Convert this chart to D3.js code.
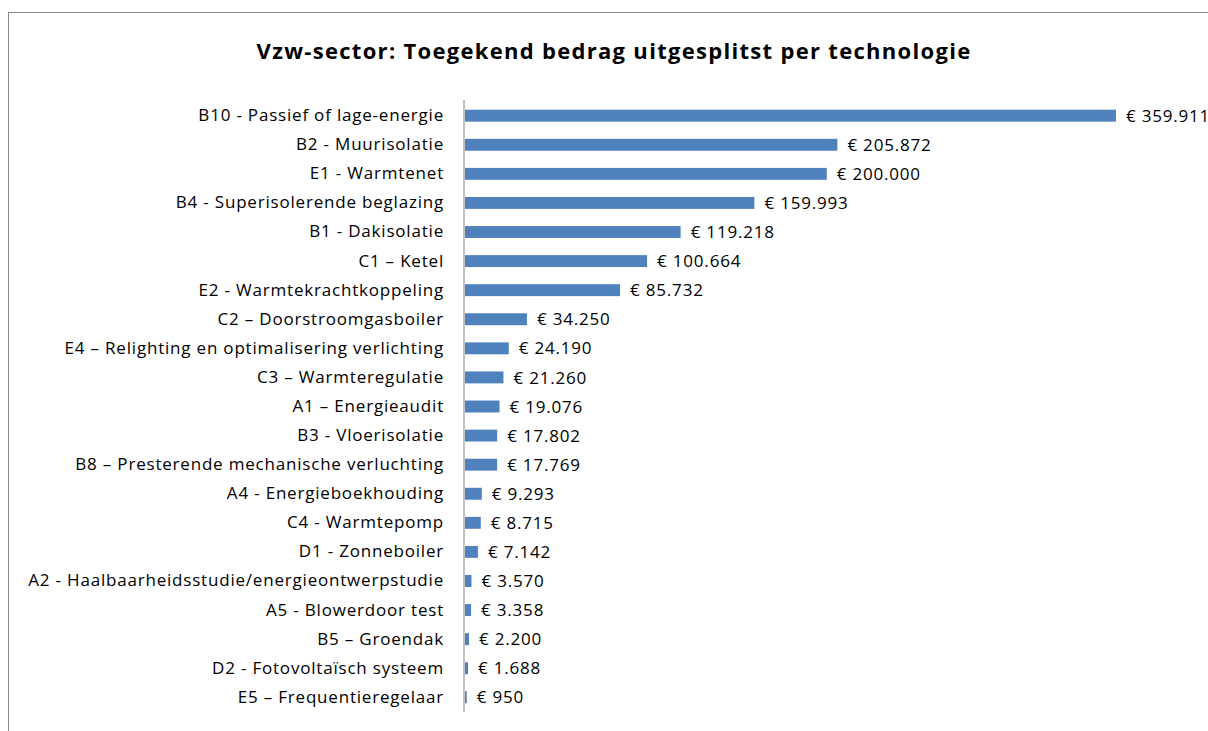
<!DOCTYPE html>
<html>
<head>
  <meta charset="utf-8">
  <title>Vzw-sector</title>
  <script src="https://d3js.org/d3.v7.min.js"></script>
  <style>
    html, body { margin: 0; height: 100%; overflow: hidden; background: #fff; }
    text { font-family: "Open Sans", sans-serif; fill: #000; }
  </style>
</head>
<body>
  <div id="chart"></div>
  <script>
    const categories = [
      "B10 - Passief of lage-energie",
      "B2 - Muurisolatie",
      "E1 - Warmtenet",
      "B4 - Superisolerende beglazing",
      "B1 - Dakisolatie",
      "C1 \u2013 Ketel",
      "E2 - Warmtekrachtkoppeling",
      "C2 \u2013 Doorstroomgasboiler",
      "E4 \u2013 Relighting en optimalisering verlichting",
      "C3 \u2013 Warmteregulatie",
      "A1 \u2013 Energieaudit",
      "B3 - Vloerisolatie",
      "B8 \u2013 Presterende mechanische verluchting",
      "A4 - Energieboekhouding",
      "C4 - Warmtepomp",
      "D1 - Zonneboiler",
      "A2 - Haalbaarheidsstudie/energieontwerpstudie",
      "A5 - Blowerdoor test",
      "B5 \u2013 Groendak",
      "D2 - Fotovolta\u00efsch systeem",
      "E5 \u2013 Frequentieregelaar"
    ];
    const values = [359911, 205872, 200000, 159993, 119218, 100664, 85732, 34250, 24190,
      21260, 19076, 17802, 17769, 9293, 8715, 7142, 3570, 3358, 2200, 1688, 950];
    const title = "Vzw-sector: Toegekend bedrag uitgesplitst per technologie";

    const W = 1208, H = 731;
    const svg = d3.select('#chart').append('svg')
      .attr('width', W).attr('height', H);

    // chart frame
    svg.append('rect')
      .attr('x', 8.5).attr('y', 12.5)
      .attr('width', W + 10).attr('height', H + 10)
      .attr('fill', '#fff')
      .attr('stroke', '#868686');

    svg.append('text')
      .attr('x', 614).attr('y', 59)
      .attr('text-anchor', 'middle')
      .attr('font-size', '22px')
      .attr('font-weight', 'bold')
      .attr('letter-spacing', '1.3px')
      .text(title);

    const x0 = 465;
    const x = d3.scaleLinear().domain([0, 359911]).range([x0, 1116]);
    const y = d3.scaleBand().domain(categories).range([101, 712]).paddingInner(0.59).paddingOuter(0.3);

    const fmt = v => '\u20ac ' + d3.format(',')(v).replace(/,/g, '.');

    svg.append('g').selectAll('rect')
      .data(values)
      .join('rect')
      .attr('x', x0)
      .attr('y', (d, i) => y(categories[i]))
      .attr('width', d => x(d) - x0)
      .attr('height', y.bandwidth())
      .attr('fill', '#4f81bd');

    svg.append('g').selectAll('text')
      .data(values)
      .join('text')
      .attr('x', d => x(d) + 10)
      .attr('y', (d, i) => y(categories[i]) + y.bandwidth() / 2)
      .attr('dy', '0.36em')
      .attr('font-size', '17px')
      .attr('letter-spacing', '0.8px')
      .text(fmt);

    const axis = svg.append('g')
      .attr('transform', `translate(${x0 - 1},0)`)
      .call(d3.axisLeft(y).tickSize(0).tickPadding(20));
    axis.select('.domain').attr('stroke', '#868686').attr('d', 'M0,100V712');
    axis.selectAll('text')
      .attr('font-size', '17px')
      .attr('letter-spacing', '0.8px')
      .attr('font-family', '"Open Sans", sans-serif')
      .attr('fill', '#000');
  </script>
</body>
</html>
